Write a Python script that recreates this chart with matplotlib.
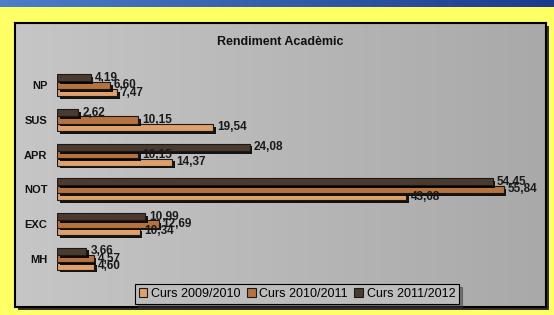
import numpy as np
import matplotlib
matplotlib.use("Agg")
import matplotlib.pyplot as plt
import matplotlib.patheffects as pe
from matplotlib.patches import Rectangle

# data
categories = ["NP", "SUS", "APR", "NOT", "EXC", "MH"]
series_names = ["Curs 2009/2010", "Curs 2010/2011", "Curs 2011/2012"]
curs_0910 = [7.47, 19.54, 14.37, 43.68, 10.34, 4.60]
curs_1011 = [6.60, 10.15, 10.15, 55.84, 12.69, 4.57]
curs_1112 = [4.19, 2.62, 24.08, 54.45, 10.99, 3.66]

colors = ["#DFA06C", "#B6723F", "#4B3B2E"]

plt.rcParams["font.family"] = ["Liberation Sans", "DejaVu Sans"]

W, H = 554, 315
fig = plt.figure(figsize=(W / 100, H / 100), dpi=100)
fig.patch.set_facecolor("#FFFF66")


def fx(px):
    return px / W


def fy(py):
    return 1 - py / H


# blue banner on top
ban = fig.add_axes([0, fy(7), 1, 7 / H])
ban.imshow(np.linspace(0, 1, 256)[None, :], aspect="auto",
           cmap=matplotlib.colors.LinearSegmentedColormap.from_list(
               "b", ["#4C7ECA", "#1B3C8C"]), extent=(0, 1, 0, 1))
ban.axis("off")

# gray chart panel with gradient, border and shadow
px0, px1, py0, py1 = 15, 546, 23, 307
fig.patches.append(Rectangle((fx(px0 + 3), fy(py1 + 3)), fx(px1 - px0), (py1 - py0) / H,
                             transform=fig.transFigure, facecolor="#333333",
                             edgecolor="none", zorder=-5))
bg = fig.add_axes([fx(px0), fy(py1), fx(px1 - px0), (py1 - py0) / H], zorder=1)
bg.imshow(np.linspace(0, 1, 256)[None, :], aspect="auto",
          cmap=matplotlib.colors.LinearSegmentedColormap.from_list(
              "g", ["#C6C6C6", "#A9A9A9"]), extent=(0, 1, 0, 1))
bg.set_xticks([])
bg.set_yticks([])
for s in bg.spines.values():
    s.set_linewidth(1.5)
    s.set_color("black")

fig.text(fx((px0 + px1) / 2), fy(42), "Rendiment Acadèmic", ha="center", va="center",
         fontsize=9, fontweight="bold", color="#111111", zorder=10)

# main plot axes
ax = fig.add_axes([fx(57), fy(276), fx(464), 208 / H], zorder=2)
ax.set_facecolor("none")
ax.set_xlim(0, 58)
ax.set_ylim(-0.5, len(categories) - 0.5)
ax.invert_yaxis()

y = np.arange(len(categories))
h = 0.215
offsets = [h, 0, -h]  # 2009/2010 bottom, 2011/2012 top
shadow = [pe.SimplePatchShadow(offset=(2, -2), shadow_rgbFace="black", alpha=0.9), pe.Normal()]

for vals, name, col, off in zip([curs_0910, curs_1011, curs_1112], series_names, colors, offsets):
    ax.barh(y + off, vals, height=h * 0.95, color=col, edgecolor="#1a1a1a",
            linewidth=0.8, label=name, path_effects=shadow)
    for yy, v in zip(y + off, vals):
        ax.annotate(f"{v:.2f}".replace(".", ","), (v, yy), xytext=(3, 0),
                    textcoords="offset points", ha="left", va="center",
                    fontsize=8.5, fontweight="bold", color="#1a1a1a")

ax.set_yticks(y)
ax.set_yticklabels(categories, fontsize=8, fontweight="bold", color="#111111")
ax.tick_params(axis="y", length=0, pad=7)
ax.set_xticks([])
for s in ax.spines.values():
    s.set_visible(False)

leg = ax.legend(loc="center", bbox_to_anchor=(fx(297), fy(294)),
                bbox_transform=fig.transFigure, ncol=3, fontsize=9,
                frameon=True, fancybox=False, shadow=True, handlelength=0.7,
                handleheight=0.7, handletextpad=0.3, columnspacing=0.5,
                borderpad=0.3, edgecolor="black", facecolor="#BDBDBD", framealpha=1)
leg.get_frame().set_linewidth(0.8)
for hdl in leg.legend_handles:
    hdl.set_path_effects([])

fig.savefig("out.png", dpi=100, facecolor=fig.get_facecolor())
